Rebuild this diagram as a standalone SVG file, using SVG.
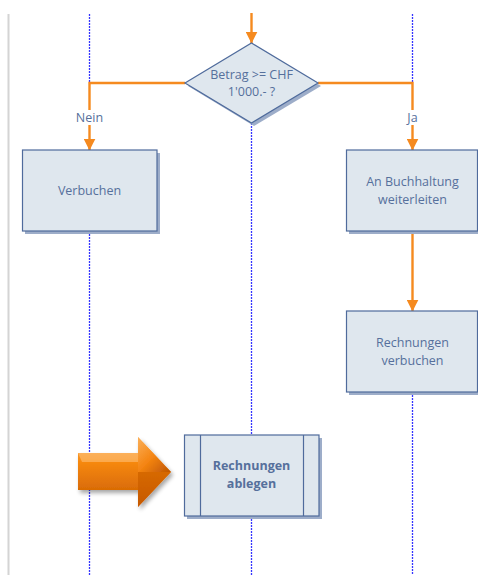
<svg xmlns="http://www.w3.org/2000/svg" width="478" height="575" viewBox="0 0 478 575">
<defs>
<style>
.lane{stroke:#3535ff;stroke-width:1.3;stroke-dasharray:2,1;fill:none}
.box{fill:#dfe7ee;stroke:#4f6b9c;stroke-width:1.2}
.shadow{fill:#9dadc9}
.conn{stroke:#f58a1f;stroke-width:2.4;fill:none}
.t{font-family:"Open Sans","Liberation Sans",sans-serif;font-size:12.5px;fill:#56709c;text-anchor:middle}
.b{font-weight:bold}
</style>
<marker id="ah" viewBox="0 0 10 10" refX="9.5" refY="5" markerWidth="12" markerHeight="12" orient="auto" markerUnits="userSpaceOnUse">
<path d="M0,0 L10,5 L0,10 z" fill="#f58a1f"/>
</marker>
<linearGradient id="ashaft" x1="0" y1="0" x2="0" y2="1">
<stop offset="0" stop-color="#fbb05a"/>
<stop offset="0.35" stop-color="#f7890f"/>
<stop offset="1" stop-color="#c85a00"/>
</linearGradient>
<linearGradient id="ahead" x1="0" y1="0" x2="1" y2="1">
<stop offset="0" stop-color="#fbb05a"/>
<stop offset="0.5" stop-color="#f48412"/>
<stop offset="1" stop-color="#b85000"/>
</linearGradient>
<filter id="ds" x="-20%" y="-20%" width="150%" height="150%">
<feGaussianBlur in="SourceAlpha" stdDeviation="2"/>
<feOffset dx="2" dy="3"/>
<feComponentTransfer><feFuncA type="linear" slope="0.35"/></feComponentTransfer>
<feMerge><feMergeNode/><feMergeNode in="SourceGraphic"/></feMerge>
</filter>
</defs>
<rect width="478" height="575" fill="#ffffff"/>
<line x1="8.5" y1="14" x2="8.5" y2="575" stroke="#d4d4d4" stroke-width="2"/>
<g id="lanes">
<line class="lane" x1="89.5" y1="14" x2="89.5" y2="83"/>
<line class="lane" x1="89.5" y1="231" x2="89.5" y2="575"/>
<line class="lane" x1="251.5" y1="123" x2="251.5" y2="435"/>
<line class="lane" x1="251.5" y1="516" x2="251.5" y2="575"/>
<line class="lane" x1="412.5" y1="14" x2="412.5" y2="83"/>
<line class="lane" x1="412.5" y1="392" x2="412.5" y2="575"/>
</g>
<g id="connectors">
<line class="conn" x1="251.5" y1="13" x2="251.5" y2="43" marker-end="url(#ah)"/>
<polyline class="conn" points="185,83 89.5,83 89.5,110"/>
<line class="conn" x1="89.5" y1="125" x2="89.5" y2="150" marker-end="url(#ah)"/>
<polyline class="conn" points="318,83 412.5,83 412.5,110"/>
<line class="conn" x1="412.5" y1="125" x2="412.5" y2="150" marker-end="url(#ah)"/>
<line class="conn" x1="412.5" y1="231" x2="412.5" y2="311" marker-end="url(#ah)"/>
<text class="t" x="89.5" y="122">Nein</text>
<text class="t" x="412.5" y="122">Ja</text>
</g>
<g id="decision">
<polygon class="shadow" points="254,46 321,86 254,126 188,86"/>
<polygon class="box" points="251.5,43 318,83 251.5,123 185,83"/>
<text class="t" x="251.5" y="79">Betrag &gt;= CHF</text>
<text class="t" x="251.5" y="96">1'000.- ?</text>
</g>
<g id="verbuchen">
<rect class="shadow" x="25" y="153" width="135" height="81"/>
<rect class="box" x="22.5" y="150" width="134.5" height="81"/>
<text class="t" x="89.5" y="195">Verbuchen</text>
</g>
<g id="buchhaltung">
<rect class="shadow" x="349" y="153" width="132" height="81"/>
<rect class="box" x="346.5" y="150" width="131" height="81"/>
<text class="t" x="412.5" y="186">An Buchhaltung</text>
<text class="t" x="412.5" y="204">weiterleiten</text>
</g>
<g id="rechnungen-verbuchen">
<rect class="shadow" x="349" y="314" width="132" height="81"/>
<rect class="box" x="346.5" y="311" width="131" height="81"/>
<text class="t" x="412.5" y="347">Rechnungen</text>
<text class="t" x="412.5" y="365">verbuchen</text>
</g>
<g id="rechnungen-ablegen">
<rect class="shadow" x="187" y="438" width="135" height="81"/>
<rect class="box" x="184.5" y="435" width="134.5" height="81"/>
<line x1="200.5" y1="435" x2="200.5" y2="516" stroke="#4f6b9c" stroke-width="1.2"/>
<line x1="303.5" y1="435" x2="303.5" y2="516" stroke="#4f6b9c" stroke-width="1.2"/>
<text class="t b" x="251.5" y="470">Rechnungen</text>
<text class="t b" x="251.5" y="488">ablegen</text>
</g>
<g id="big-arrow" filter="url(#ds)">
<polygon points="78,453 138,453 138,437 171,472 138,507 138,490 78,490" fill="url(#ashaft)"/>
<polygon points="138,437 171,472 138,472" fill="url(#ahead)" opacity="0.9"/>
<polygon points="138,472 171,472 138,507" fill="#c45800" opacity="0.55"/>
<polygon points="78,453 138,453 138,462 82,462" fill="#ffd09a" opacity="0.45"/>
</g>
</svg>
